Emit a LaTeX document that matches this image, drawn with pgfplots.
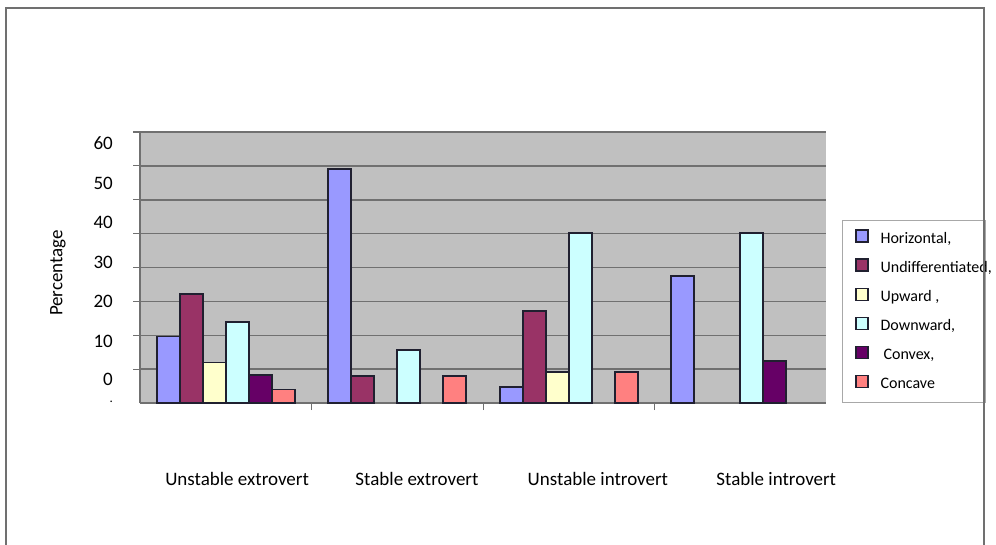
\documentclass[border=0pt]{standalone}
\usepackage{fontspec}
\setmainfont{Carlito}
\usepackage{pgfplots}
\pgfplotsset{compat=1.18}
\definecolor{cH}{HTML}{9999FF}
\definecolor{cUd}{HTML}{993366}
\definecolor{cUp}{HTML}{FFFFCC}
\definecolor{cDn}{HTML}{CCFFFF}
\definecolor{cCx}{HTML}{660066}
\definecolor{cCc}{HTML}{FF8080}
\definecolor{bgc}{HTML}{C0C0C0}
\definecolor{gridc}{HTML}{707070}
\definecolor{framec}{HTML}{707070}
\definecolor{legc}{HTML}{A8A8A8}
\definecolor{barline}{HTML}{202030}
\pgfplotsset{
  mybar/.style={ybar, bar width=23pt, draw=barline, line width=1.6pt,
    legend image code/.code={\draw[##1, line width=1.2pt] (0pt,-2pt) rectangle (12pt,10pt);}},
}
\begin{document}
\begin{tikzpicture}[x=1pt,y=1pt]
\useasboundingbox (0,0) rectangle (996,544);
\begin{axis}[
  at={(140pt,141pt)}, anchor=south west,
  width=686pt, height=271pt, scale only axis,
  xmin=-0.5, xmax=3.5, ymin=0, ymax=80,
  axis lines*=left,
  axis line style={draw=gridc, line width=1.2pt},
  axis background/.style={fill=bgc},
  tick align=outside,
  major tick length=7pt,
  xtick={0.5,1.5,2.5}, xticklabels={},
  xtick style={draw=gridc, line width=1pt},
  ytick={76.7,64.9,53.3,41.6,29.9,18.3,7.0,0.2},
  yticklabels={60,50,40,30,20,10,0,\raisebox{0pt}[0pt][0pt]{\fontsize{13}{13}\selectfont .}},
  ytick style={draw=none},
  yticklabel style={font=\fontsize{19}{22}\selectfont, inner sep=1pt, xshift=-19pt},
  extra y ticks={10,20,30,40,50,60,70,80},
  extra y tick labels={},
  extra y tick style={grid=major, ytick style={draw=gridc, line width=1.2pt}},
  major grid style={draw=gridc, line width=1.5pt},
  extra x ticks={0.066,1.115,2.17,3.21},
  extra x tick labels={Unstable extrovert,Stable extrovert,Unstable introvert,Stable introvert},
  extra x tick style={xtick style={draw=none}, xticklabel style={font=\fontsize{19}{22}\selectfont, anchor=base, yshift=-75pt}},
  ylabel={Percentage},
  ylabel style={at={(axis description cs:-0.1195,0.48)}, anchor=center, font=\fontsize{19}{22}\selectfont},
  legend style={at={(1.0233,0.6753)}, anchor=north west, draw=legc, line width=0.8pt, fill=white,
    font=\fontsize{16}{19}\selectfont, row sep=11pt, inner xsep=13pt, inner ysep=9pt,
    nodes={inner sep=0pt, text height=11pt, text depth=4pt},
    /tikz/every odd column/.append style={column sep=12pt}},
  legend cell align=left,
]
\addplot[mybar, fill=cH, bar shift=-57.5pt] coordinates {(0,19.6) (1,69.0) (2,4.8) (3,37.5)};
\addlegendentry{Horizontal,}
\addplot[mybar, fill=cUd, bar shift=-34.5pt] coordinates {(0,32.1) (1,8.0) (2,27.2)};
\addlegendentry{\makebox[92pt][l]{Undifferentiated,}}
\addplot[mybar, fill=cUp, bar shift=-11.5pt] coordinates {(0,12.0) (2,9.2)};
\addlegendentry{Upward ,}
\addplot[mybar, fill=cDn, bar shift=11.5pt] coordinates {(0,24.0) (1,15.6) (2,50.1) (3,50.1)};
\addlegendentry{Downward,}
\addplot[mybar, fill=cCx, bar shift=34.5pt] coordinates {(0,8.3) (3,12.4)};
\addlegendentry{\hspace{3pt}Convex,}
\addplot[mybar, fill=cCc, bar shift=57.5pt] coordinates {(0,4.0) (1,8.0) (2,9.2)};
\addlegendentry{Concave}
\end{axis}
\draw[framec, line width=2pt] (6,-10) -- (6,536) -- (984,536) -- (984,-10);
\end{tikzpicture}
\end{document}
